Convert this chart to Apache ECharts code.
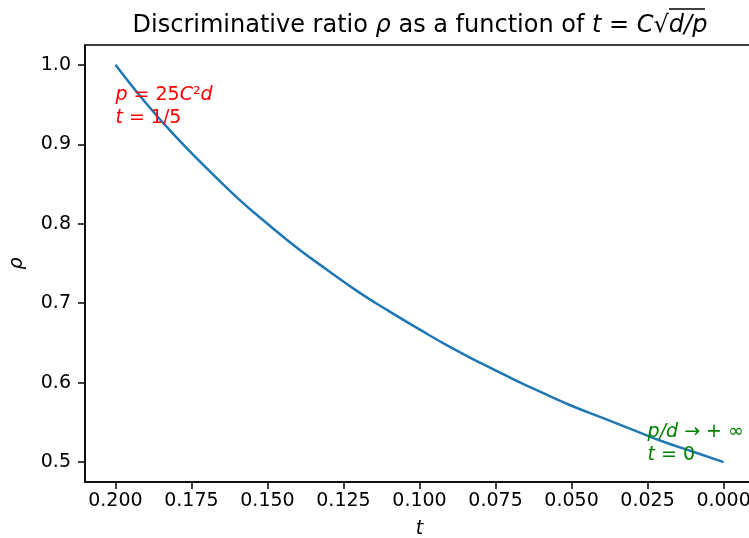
<!DOCTYPE html>
<html>
<head>
<meta charset="utf-8">
<script src="https://cdn.jsdelivr.net/npm/echarts@6/dist/echarts.min.js"></script>
<style>
  html, body { margin: 0; padding: 0; background: #fff; }
  #main { width: 749px; height: 538px; }
</style>
</head>
<body>
<div id="main"></div>
<script>
// t values (x axis, reversed) and discriminative ratio
var tValues = [0.20, 0.19, 0.18, 0.17, 0.16, 0.15, 0.14, 0.13, 0.12, 0.11, 0.10,
               0.09, 0.08, 0.07, 0.06, 0.05, 0.04, 0.03, 0.02, 0.01, 0.00];
var rhoValues = [1.000, 0.952, 0.909, 0.870, 0.833, 0.800, 0.769, 0.741, 0.714, 0.690, 0.667,
                 0.645, 0.625, 0.606, 0.588, 0.571, 0.556, 0.541, 0.526, 0.513, 0.500];
var xTicks = [0.200, 0.175, 0.150, 0.125, 0.100, 0.075, 0.050, 0.025, 0.000];
var yTicks = [0.5, 0.6, 0.7, 0.8, 0.9, 1.0];

var font = 'DejaVu Sans';
var curve = tValues.map(function (t, i) { return [t, rhoValues[i]]; });

var myChart = echarts.init(document.getElementById('main'));
myChart.setOption({
    animation: false,
    backgroundColor: '#fff',
    title: {
        left: 415,
        textAlign: 'center',
        top: 9,
        text: '{n|Discriminative ratio }{i|ρ}{n| as a function of }{i|t}{n| = }{i|C}{n|√}{i|d/p}',
        textStyle: {
            rich: {
                n: { fontFamily: font, fontSize: 24, fontWeight: 'normal', color: '#000' },
                i: { fontFamily: font, fontSize: 24, fontWeight: 'normal', fontStyle: 'italic', color: '#000' }
            }
        }
    },
    // overbar of the square root in the title
    graphic: [{
        type: 'line',
        shape: { x1: 669, y1: 9, x2: 705, y2: 9 },
        style: { stroke: '#000', lineWidth: 1.5 }
    }],
    grid: {
        left: 85, top: 45, width: 669, height: 437,
        show: true, borderColor: '#000', borderWidth: 1.5,
        containLabel: false, outerBoundsMode: 'none'
    },
    xAxis: {
        type: 'value', inverse: true, min: -0.01, max: 0.21,
        name: 't', nameLocation: 'middle', nameGap: 38,
        nameTextStyle: { fontFamily: font, fontSize: 19, fontStyle: 'italic', color: '#000' },
        axisLine: { onZero: false, lineStyle: { color: '#000', width: 1.5 } },
        axisTick: { length: 7, lineStyle: { color: '#000', width: 1.5 }, customValues: xTicks },
        axisLabel: {
            customValues: xTicks, margin: 10,
            fontFamily: font, fontSize: 19, color: '#000',
            formatter: function (v) { return v.toFixed(3); }
        },
        splitLine: { show: false }
    },
    yAxis: {
        type: 'value', min: 0.475, max: 1.025,
        name: 'ρ', nameLocation: 'middle', nameGap: 58, nameRotate: 90,
        nameTextStyle: { fontFamily: font, fontSize: 19, fontStyle: 'italic', color: '#000' },
        axisLine: { show: true, onZero: false, lineStyle: { color: '#000', width: 1.5 } },
        axisTick: { show: true, length: 7, lineStyle: { color: '#000', width: 1.5 }, customValues: yTicks },
        axisLabel: {
            customValues: yTicks, margin: 14,
            fontFamily: font, fontSize: 19, color: '#000',
            formatter: function (v) { return v.toFixed(1); }
        },
        splitLine: { show: false }
    },
    series: [{
        type: 'line',
        data: curve,
        smooth: true,
        showSymbol: false,
        lineStyle: { color: '#1f77b4', width: 2.5 },
        markPoint: {
            symbol: 'circle', symbolSize: 0,
            data: [
                {
                    coord: [0.2, 0.925],
                    label: {
                        show: true, position: [0, 5], align: 'left', verticalAlign: 'bottom',
                        formatter: '{i|p}{n| = 25}{i|C}{n|²}{i|d}\n{i|t}{n| = 1/5}',
                        rich: {
                            n: { fontFamily: font, fontSize: 19, color: '#ff0000', lineHeight: 23 },
                            i: { fontFamily: font, fontSize: 19, fontStyle: 'italic', color: '#ff0000', lineHeight: 23 }
                        }
                    }
                },
                {
                    coord: [0.025, 0.5],
                    label: {
                        show: true, position: [0, 4], align: 'left', verticalAlign: 'bottom',
                        formatter: '{i|p/d}{n| → + ∞}\n{i|t}{n| = 0}',
                        rich: {
                            n: { fontFamily: font, fontSize: 19, color: '#008000', lineHeight: 23 },
                            i: { fontFamily: font, fontSize: 19, fontStyle: 'italic', color: '#008000', lineHeight: 23 }
                        }
                    }
                }
            ]
        }
    }]
});
</script>
</body>
</html>
